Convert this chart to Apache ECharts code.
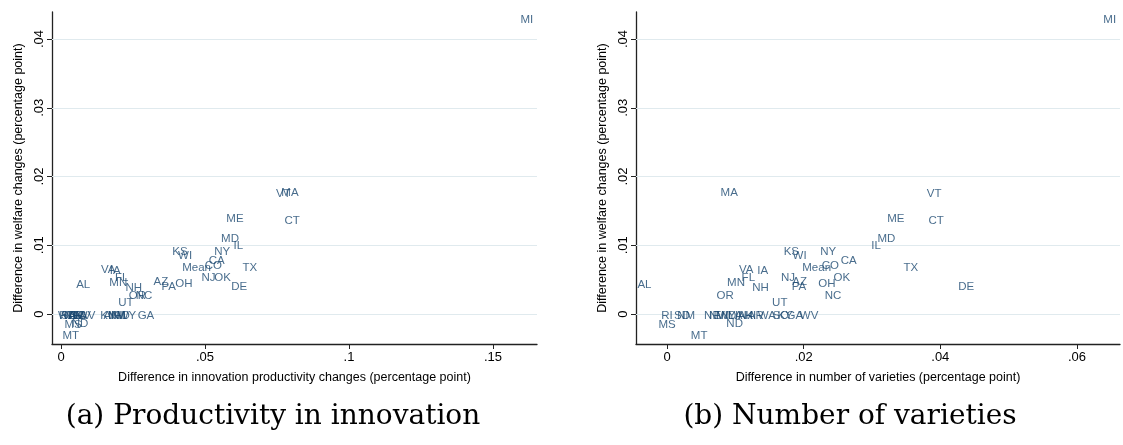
<!DOCTYPE html>
<html>
<head>
<meta charset="utf-8">
<script src="https://cdn.jsdelivr.net/npm/echarts@6/dist/echarts.min.js"></script>
<style>
  html, body { margin: 0; padding: 0; background: #fff; }
  #chart { width: 1123px; height: 445px; }
</style>
</head>
<body>
<div id="chart"></div>
<script>
// State labels and the three measures (percentage point differences)
const states = ['MI','VT','MA','ME','CT','MD','IL','KS','WI','NY','CA','CO','Mean','TX',
  'VA','IA','FL','NJ','OK','AZ','MN','OH','AL','DE','PA','NH','NC','OR','UT',
  'ND','MS','MT','GA',
  'RI','WA','SD','NE','TN','AR','SC','LA','NV','WV','KY','AK','IN','NM','HI','ID','WY'];

const welfare = [0.0428,0.01745,0.01756,0.0139,0.0135,0.0109,0.0099,0.0091,0.0084,0.0091,0.0078,0.0070,0.00665,0.00665,
  0.0065,0.0063,0.0053,0.0053,0.0053,0.0047,0.0045,0.0044,0.0042,0.0040,0.0039,0.0038,0.0027,0.0026,0.0016,
  -0.0014,-0.0015,-0.0032,-0.0002,
  -0.0002,-0.0002,-0.0002,-0.0002,-0.0002,-0.0002,-0.0002,-0.0002,-0.0002,-0.0002,-0.0002,-0.0002,-0.0002,-0.0002,-0.0002,-0.0002,-0.0002];

const innovation = [0.1618,0.0772,0.0795,0.0604,0.0803,0.0587,0.0616,0.0413,0.0431,0.0560,0.0541,0.0529,0.0471,0.0656,
  0.0164,0.0188,0.0211,0.0512,0.0561,0.0347,0.0199,0.0427,0.0077,0.0619,0.0374,0.0253,0.0288,0.0265,0.0225,
  0.0066,0.0042,0.0034,0.0295,
  0.0014,0.0021,0.0028,0.0038,0.0045,0.0052,0.0059,0.0066,0.0076,0.0087,0.0163,0.0174,0.0184,0.0194,0.0205,0.0219,0.0229];

const varieties = [0.0648,0.0391,0.0091,0.0335,0.0394,0.0321,0.0306,0.0182,0.0194,0.0236,0.0266,0.0239,0.0219,0.0357,
  0.0116,0.0140,0.0119,0.0177,0.0256,0.0194,0.0101,0.0234,-0.0033,0.0438,0.0193,0.0137,0.0243,0.0085,0.0165,
  0.0099,0.0000,0.0047,0.0187,
  0.0000,0.0146,0.0022,0.0066,0.0080,0.0130,0.0166,0.0100,0.0073,0.0208,0.0173,0.0115,0.0108,0.0028,0.0122,0.0093,0.0087];

const innovationTicks = [0, 0.05, 0.1, 0.15];
const varietyTicks = [0, 0.02, 0.04, 0.06];
const welfareTicks = [0, 0.01, 0.02, 0.03, 0.04];

const captionA = '(a) Productivity in innovation';
const captionB = '(b) Number of varieties';

const navy = '#1a476f';
const gridColor = '#e0eaee';
const sans = '"Liberation Sans", Arial, sans-serif';

function fmt(v) {
  if (v === 0) return '0';
  return String(+v.toFixed(4)).replace(/^0\./, '.').replace(/^-0\./, '-.');
}

function xAxisDef(idx, min, max, ticks, name) {
  return {
    type: 'value', gridIndex: idx, min: min, max: max,
    name: name, nameLocation: 'middle', nameGap: 27,
    nameTextStyle: { fontFamily: sans, fontSize: 12.5, color: '#000' },
    axisLine: { show: true, onZero: false, lineStyle: { color: '#222', width: 1.3 } },
    axisTick: { show: true, length: 5, customValues: ticks, lineStyle: { color: '#222', width: 1 } },
    axisLabel: { customValues: ticks, formatter: fmt, fontFamily: sans, fontSize: 13, color: '#000', margin: 7 },
    splitLine: { show: false }
  };
}

function yAxisDef(idx) {
  return {
    type: 'value', gridIndex: idx, min: -0.00436, max: 0.04393,
    name: 'Difference in welfare changes (percentage point)', nameLocation: 'middle', nameGap: 27,
    nameTextStyle: { fontFamily: sans, fontSize: 12.5, color: '#000' },
    axisLine: { show: true, onZero: false, lineStyle: { color: '#222', width: 1.3 } },
    axisTick: { show: true, length: 5, customValues: welfareTicks, lineStyle: { color: '#222', width: 1 } },
    axisLabel: { customValues: welfareTicks, formatter: fmt, rotate: 90, fontFamily: sans, fontSize: 13, color: '#000', margin: 6 },
    splitLine: { show: false }
  };
}

function labelled(xs) {
  return states.map((s, i) => ({ name: s, value: [xs[i], welfare[i]] }));
}

function seriesDef(idx, xs) {
  return {
    type: 'scatter', xAxisIndex: idx, yAxisIndex: idx,
    data: labelled(xs), symbolSize: 0, silent: true,
    label: {
      show: true, position: 'inside', formatter: p => p.name,
      fontFamily: sans, fontSize: 11.5, color: navy
    },
    markLine: {
      silent: true, symbol: 'none', z: 1,
      label: { show: false },
      lineStyle: { color: gridColor, width: 1, type: 'solid' },
      data: welfareTicks.map(v => ({ yAxis: v }))
    },
    z: 3
  };
}

const chart = echarts.init(document.getElementById('chart'), null, { renderer: 'canvas' });
chart.setOption({
  backgroundColor: '#fff',
  animation: false,
  grid: [
    { left: 52, top: 12, width: 485, height: 332 },
    { left: 636, top: 12, width: 484, height: 332 }
  ],
  xAxis: [
    xAxisDef(0, -0.003125, 0.1653, innovationTicks, 'Difference in innovation productivity changes (percentage point)'),
    xAxisDef(1, -0.00454, 0.0663, varietyTicks, 'Difference in number of varieties (percentage point)')
  ],
  yAxis: [yAxisDef(0), yAxisDef(1)],
  series: [seriesDef(0, innovation), seriesDef(1, varieties)],
  graphic: [
    { type: 'text', x: 273, y: 417, style: { text: captionA, fill: '#000', font: '28px "DejaVu Serif", serif', align: 'center', verticalAlign: 'middle' } },
    { type: 'text', x: 850, y: 417, style: { text: captionB, fill: '#000', font: '28px "DejaVu Serif", serif', align: 'center', verticalAlign: 'middle' } }
  ]
});
</script>
</body>
</html>
